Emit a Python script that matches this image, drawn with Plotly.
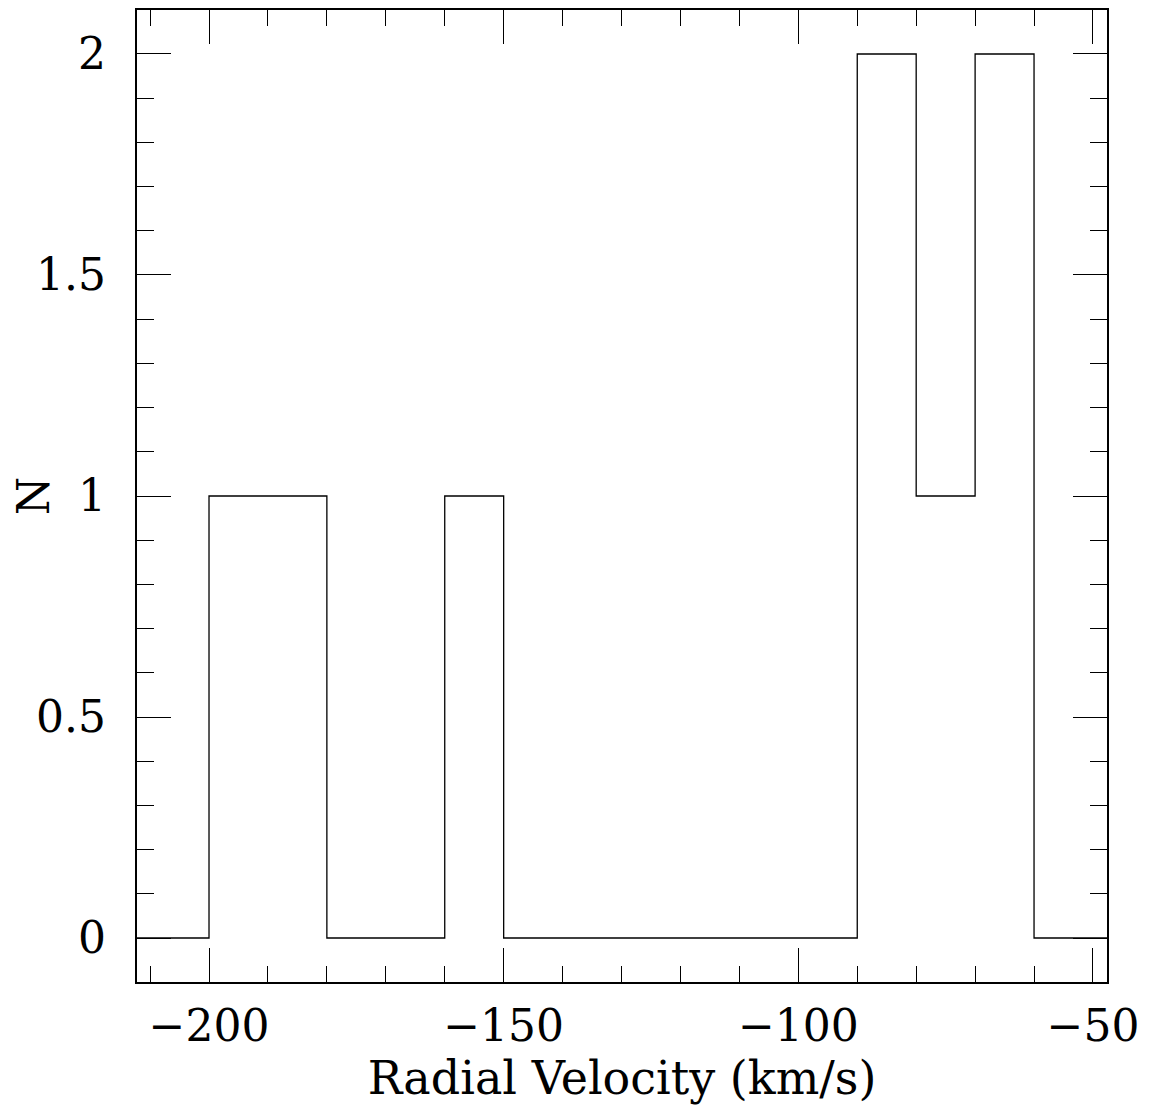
import plotly.graph_objects as go

# Histogram data (bin width 10 km/s)
bin_edges = [-220, -210, -200, -190, -180, -170, -160, -150, -140, -130, -120,
             -110, -100, -90, -80, -70, -60, -50, -40]
counts = [0, 0, 1, 1, 0, 0, 1, 0, 0, 0, 0, 0, 0, 2, 1, 2, 0, 0]

x_ticks = [-200, -150, -100, -50]
x_tick_labels = ["−200", "−150", "−100", "−50"]
y_ticks = [0, 0.5, 1, 1.5, 2]
y_tick_labels = ["0", "0.5", "1", "1.5", "2"]

xs = list(bin_edges)
ys = list(counts) + [counts[-1]]

font_family = "DejaVu Serif"
fsize = 44

fig = go.Figure()
fig.add_trace(go.Scatter(x=xs, y=ys, mode="lines", line=dict(shape="hv", color="black", width=1.3),
                         showlegend=False, hoverinfo="skip"))

axis_common = dict(
    showgrid=False, zeroline=False, showline=True, linecolor="black", linewidth=2.2,
    mirror="allticks", ticks="inside", tickcolor="black", tickwidth=1.3, ticklen=34,
    tickfont=dict(family=font_family, size=fsize, color="black"),
    automargin=False,
)

fig.update_xaxes(
    range=[-212.22, -47.62], tickvals=x_ticks, ticktext=x_tick_labels,
    minor=dict(dtick=10, tick0=-200, ticks="inside", ticklen=16, tickcolor="black", tickwidth=1.3),
    title=dict(text="Radial Velocity (km/s)", font=dict(family=font_family, size=46, color="black"), standoff=4),
    ticklabelstandoff=4,
    **axis_common,
)
fig.update_yaxes(
    range=[-0.0995, 2.0995], tickvals=y_ticks, ticktext=y_tick_labels,
    minor=dict(dtick=0.1, tick0=0, ticks="inside", ticklen=17, tickcolor="black", tickwidth=1.3),
    title=dict(text="N", font=dict(family=font_family, size=fsize, color="black"), standoff=18),
    ticklabelstandoff=20,
    **axis_common,
)

# The page body adds an 8 px offset; size the figure so the plot box lands where the reference has it.
fig.update_layout(
    width=1143, height=1099,
    margin=dict(l=129, r=44, t=2, b=125),
    plot_bgcolor="white", paper_bgcolor="white",
)

fig.write_html("out.html")
